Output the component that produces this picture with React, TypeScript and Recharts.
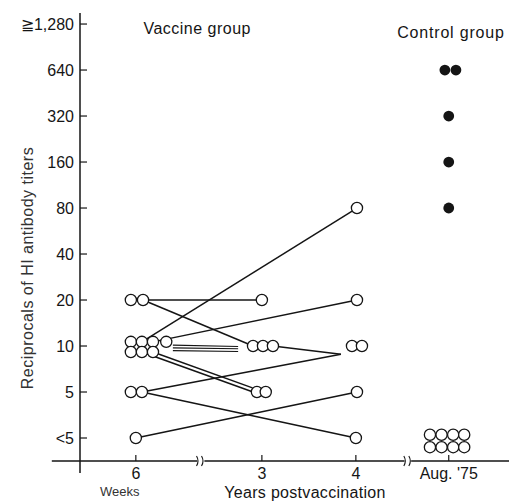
import { ComposedChart, Line, ReferenceDot, ReferenceLine, Scatter, XAxis, YAxis } from "recharts";

const ink = "#151515";
const font = "'Liberation Sans', Arial, sans-serif";

// y positions are steps of the twofold titer scale: 0 = <5, 1 = 5, 2 = 10 ...
const yTicks = [0, 1, 2, 3, 4, 5, 6, 7, 8, 9];
const yTickLabels = ["<5", "5", "10", "20", "40", "80", "160", "320", "640", "≧1,280"];
const xTicks = [1.01, 3.29, 4.99, 6.67];
const xTickLabels = ["6", "3", "4", "Aug. '75"];

// open circles, vaccine group: [column position, titer step]
const week6 = [
  [0.92, 3], [1.14, 3],
  [0.92, 2.09], [1.12, 2.09], [1.32, 2.09], [1.56, 2.09],
  [0.92, 1.87], [1.12, 1.87], [1.32, 1.87],
  [0.92, 1], [1.12, 1],
  [1.01, 0],
];
const year3 = [
  [3.29, 3],
  [3.13, 2], [3.31, 2], [3.49, 2],
  [3.2, 1], [3.36, 1],
];
const year4 = [
  [5.01, 5],
  [5.01, 3],
  [4.92, 2], [5.1, 2],
  [5.01, 1],
  [4.99, 0],
];
// control group, Aug. '75
const controlHigh = [[6.6, 8], [6.8, 8], [6.67, 7], [6.67, 6], [6.67, 5]];
const controlLow = [
  [6.33, 0.07], [6.54, 0.07], [6.75, 0.07], [6.95, 0.07],
  [6.33, -0.2], [6.54, -0.2], [6.75, -0.2], [6.95, -0.2],
];

// follow-up lines for the same persons: [from, to]
const links = [
  [[1.14, 3], [3.29, 3]],
  [[1.14, 3], [3.13, 2]],
  [[1.12, 2.09], [5.01, 5]],
  [[1.32, 2.09], [5.01, 3]],
  [[3.49, 2], [4.72, 1.82]],
  [[1.12, 1], [4.72, 1.82]],
  [[1.12, 1.87], [3.13, 1]],
  [[1.32, 1.87], [3.12, 1.09]],
  [[1.12, 1], [4.99, 0]],
  [[1.01, 0], [5.01, 1]],
];
const triple = [
  [[1.68, 2.02], [2.86, 1.99]],
  [[1.68, 1.96], [2.86, 1.94]],
  [[1.68, 1.9], [2.86, 1.88]],
];

const toPts = (arr: number[][]) => arr.map(([x, y]) => ({ x, y }));

const OpenCircle = (p: any) => <circle cx={p.cx} cy={p.cy} r={5.6} fill="#fff" stroke={ink} strokeWidth={1.3} />;
const FilledCircle = (p: any) => <circle cx={p.cx} cy={p.cy} r={5.4} fill={ink} />;

function XTick(props: any) {
  const { x, y, payload } = props;
  const i = xTicks.indexOf(payload.value);
  return (
    <g>
      <line x1={x} y1={y - 6} x2={x} y2={y} stroke={ink} strokeWidth={1.2} />
      <text x={x} y={y + 18} textAnchor="middle" fontSize={16} fill={ink} fontFamily={font}>{xTickLabels[i]}</text>
      {i === 0 && <text x={x - 16} y={y + 35} textAnchor="middle" fontSize={13} fill="#333" fontFamily={font}>Weeks</text>}
    </g>
  );
}

function YTick(props: any) {
  const { x, y, payload } = props;
  return (
    <g>
      <line x1={x} y1={y} x2={x + 7} y2={y} stroke={ink} strokeWidth={1.2} />
      <text x={x - 6} y={y} dy={5.7} textAnchor="end" fontSize={16} fill={ink} fontFamily={font}>{yTickLabels[payload.value]}</text>
    </g>
  );
}

function AxisBreak(props: any) {
  const { cx, cy } = props;
  return (
    <g fill="none" stroke={ink} strokeWidth={1.1}>
      <path d={`M${cx - 4},${cy + 5} Q${cx - 1},${cy} ${cx - 4},${cy - 5}`} />
      <path d={`M${cx + 1},${cy + 5} Q${cx + 4},${cy} ${cx + 1},${cy - 5}`} />
    </g>
  );
}

const groupTitle = (text: string, dy: number, spacing: number) => (p: any) => (
  <text x={p.cx} y={p.cy + dy} textAnchor="middle" fontSize={16} letterSpacing={spacing} fill={ink} fontFamily={font}>{text}</text>
);

export default function App() {
  return (
    <div style={{ position: "absolute", left: 0, top: 0, width: 510, height: 503, background: "#fff" }}>
      <ComposedChart width={510} height={503} margin={{ top: 13, right: 1, bottom: 0, left: 0 }}>
        <XAxis
          type="number"
          dataKey="x"
          domain={[0, 7.76]}
          allowDataOverflow
          ticks={xTicks}
          axisLine={false}
          tickLine={false}
          tickSize={0}
          tickMargin={0}
          height={42}
          tick={XTick}
          label={(p: any) => (
            <text x={305} y={p.viewBox.y + 37} textAnchor="middle" fontSize={16} letterSpacing={0.3} fill={ink} fontFamily={font}>Years  postvaccination</text>
          )}
        />
        <YAxis
          type="number"
          dataKey="y"
          domain={[-0.5, 9.24]}
          allowDataOverflow
          ticks={yTicks}
          width={80}
          axisLine={{ stroke: ink, strokeWidth: 1.5 }}
          tickLine={false}
          tickSize={0}
          tickMargin={0}
          tick={YTick}
          label={(p: any) => {
            const cx = 27.5;
            const cy = p.viewBox.y + p.viewBox.height / 2 + 31;
            return (
              <text x={cx} y={cy} transform={`rotate(-90 ${cx} ${cy})`} dy={5} textAnchor="middle" fontSize={16} letterSpacing={0.5} fill="#333" fontFamily={font}>Reciprocals of HI antibody titers</text>
            );
          }}
        />
        <ReferenceLine segment={[{ x: -0.51, y: -0.5 }, { x: 2.12, y: -0.5 }]} stroke={ink} strokeWidth={1.5} ifOverflow="visible" />
        <ReferenceLine segment={[{ x: 2.25, y: -0.5 }, { x: 5.87, y: -0.5 }]} stroke={ink} strokeWidth={1.5} ifOverflow="visible" />
        <ReferenceLine segment={[{ x: 5.99, y: -0.5 }, { x: 7.76, y: -0.5 }]} stroke={ink} strokeWidth={1.5} ifOverflow="visible" />
        <ReferenceLine segment={[{ x: 0, y: -0.5 }, { x: 0, y: -0.76 }]} stroke={ink} strokeWidth={1.5} ifOverflow="visible" />
        <ReferenceDot x={2.18} y={-0.5} r={0} ifOverflow="visible" shape={AxisBreak} />
        <ReferenceDot x={5.93} y={-0.5} r={0} ifOverflow="visible" shape={AxisBreak} />
        <ReferenceDot x={2.12} y={9} r={0} ifOverflow="visible" shape={groupTitle("Vaccine group", 10, 0.5)} />
        <ReferenceDot x={6.71} y={9} r={0} ifOverflow="visible" shape={groupTitle("Control group", 14, 0.8)} />

        {links.map((seg, i) => (
          <Line key={"l" + i} data={toPts(seg)} dataKey="y" type="linear" stroke={ink} strokeWidth={1.5} dot={false} activeDot={false} isAnimationActive={false} />
        ))}
        {triple.map((seg, i) => (
          <Line key={"t" + i} data={toPts(seg)} dataKey="y" type="linear" stroke={ink} strokeWidth={1.1} dot={false} activeDot={false} isAnimationActive={false} />
        ))}

        <Scatter data={toPts(week6)} shape={OpenCircle} isAnimationActive={false} />
        <Scatter data={toPts(year3)} shape={OpenCircle} isAnimationActive={false} />
        <Scatter data={toPts(year4)} shape={OpenCircle} isAnimationActive={false} />
        <Scatter data={toPts(controlLow)} shape={OpenCircle} isAnimationActive={false} />
        <Scatter data={toPts(controlHigh)} shape={FilledCircle} isAnimationActive={false} />
      </ComposedChart>
    </div>
  );
}
